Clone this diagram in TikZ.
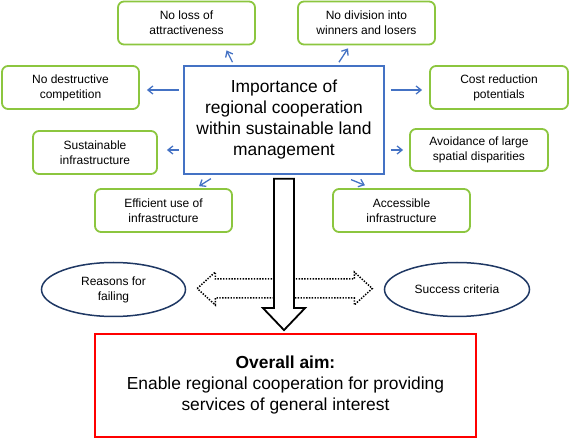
\documentclass[tikz,border=0pt]{standalone}
\usepackage{fontspec}
\setmainfont{Liberation Sans}
\usetikzlibrary{shapes.geometric, arrows.meta}
\definecolor{boxgreen}{RGB}{140,198,63}
\definecolor{boxblue}{RGB}{68,114,196}
\definecolor{navy}{RGB}{31,56,100}

\begin{document}
\begin{tikzpicture}[x=1pt,y=1pt]

    \tikzstyle{aspect} = [rectangle, rounded corners=6pt, minimum width=137pt, minimum height=43pt, inner sep=0pt, text centered, align=center, draw=boxgreen, line width=1.8pt, font=\fontsize{12}{15}\selectfont]
    \tikzstyle{topic} = [rectangle, minimum width=200pt, minimum height=108pt, text centered, align=center, draw=boxblue, line width=1.6pt, font=\fontsize{17.4}{21}\selectfont]
    \tikzstyle{factor} = [ellipse, minimum width=144pt, minimum height=54pt, inner sep=0pt, text centered, align=center, draw=navy, line width=1.5pt, font=\fontsize{12}{15}\selectfont]
    \tikzstyle{goal} = [rectangle, minimum width=381pt, minimum height=103pt, text centered, align=center, draw=red, line width=1.8pt, font=\fontsize{17.4}{21}\selectfont]
    \tikzstyle{arrow} = [boxblue, line width=1.3pt, -{Straight Barb[length=5pt,width=8pt]}]
    \tikzstyle{blockarrow} = [draw=black, fill=white, line width=1.8pt, line join=miter]
    \tikzstyle{dotarrow} = [draw=black, line width=1.5pt, dash pattern=on 1.4pt off 1.4pt]

    \useasboundingbox (0,0) rectangle (570,439);

    \node[topic] (imp) at (284,319) {Importance of\\regional cooperation\\within sustainable land\\management};

    \node[aspect] (attr) at (186.5,416) {No loss of\\attractiveness};
    \node[aspect] (win)  at (366.5,416) {No division into\\winners and losers};
    \node[aspect] (comp) at (70.5,351.5) {No destructive\\competition};
    \node[aspect, minimum width=124pt] (sust) at (95,286.5) {Sustainable\\infrastructure};
    \node[aspect] (eff)  at (163.5,228.5) {Efficient use of\\infrastructure};
    \node[aspect, minimum width=138pt] (cost) at (499,351.5) {Cost reduction\\potentials};
    \node[aspect, minimum width=138pt, minimum height=42pt] (disp) at (479,289) {Avoidance of large\\spatial disparities};
    \node[aspect] (acc)  at (401.5,228.5) {Accessible\\infrastructure};

    \node[factor] (fail) at (113.5,149.5) {Reasons for\\failing};
    \node[factor, minimum width=145pt] (succ) at (457,149.5) {Success criteria};

    \node[goal] (aim) at (285.5,53.5) {\textbf{Overall aim:}\\Enable regional cooperation for providing\\services of general interest};

    \draw[arrow, shorten <=3.4pt, shorten >=5.6pt] ([xshift=-50pt]imp.north) -- ([xshift=37.5pt]attr.south);
    \draw[arrow, shorten <=3.6pt, shorten >=3.6pt] ([xshift=53pt]imp.north) -- ([xshift=-16.5pt]win.south);
    \draw[arrow, shorten <=4pt, shorten >=7pt] ([yshift=30pt]imp.west) -- ([yshift=30pt]imp.west -| comp.east);
    \draw[arrow, shorten <=4pt, shorten >=9pt] ([yshift=-30pt]imp.west) -- ([yshift=-30pt]imp.west -| sust.east);
    \draw[arrow, shorten <=7.2pt, shorten >=3.6pt] ([xshift=-67pt]imp.south) -- ([xshift=32.5pt]eff.north);
    \draw[arrow, shorten <=6pt, shorten >=7pt] ([yshift=30pt]imp.east) -- ([yshift=30pt]imp.east -| cost.west);
    \draw[arrow, shorten <=6pt, shorten >=6pt] ([yshift=-30pt]imp.east) -- ([yshift=-30pt]imp.east -| disp.west);
    \draw[arrow, shorten <=13pt, shorten >=7.6pt] ([xshift=55pt]imp.south) -- ([xshift=-29.5pt]acc.north);

    % dotted double arrow behind the main arrow
    \draw[dotarrow] ([xshift=11pt,yshift=1pt]fail.east) -- ++(18,16.5) -- ++(0,-7) -- ++(139,0) -- ++(0,7) -- ++(18,-16.5) -- ++(-18,-16.5) -- ++(0,7) -- ++(-139,0) -- ++(0,-7) -- cycle;

    \draw[blockarrow] ([xshift=-10pt,yshift=-4pt]imp.south) -- ([xshift=10pt,yshift=-4pt]imp.south) -- ([xshift=8.5pt,yshift=25pt]aim.north) -- ([xshift=19.5pt,yshift=25pt]aim.north) -- ([xshift=-1.5pt,yshift=3pt]aim.north) -- ([xshift=-22.5pt,yshift=25pt]aim.north) -- ([xshift=-11.5pt,yshift=25pt]aim.north) -- cycle;

\end{tikzpicture}
\end{document}
